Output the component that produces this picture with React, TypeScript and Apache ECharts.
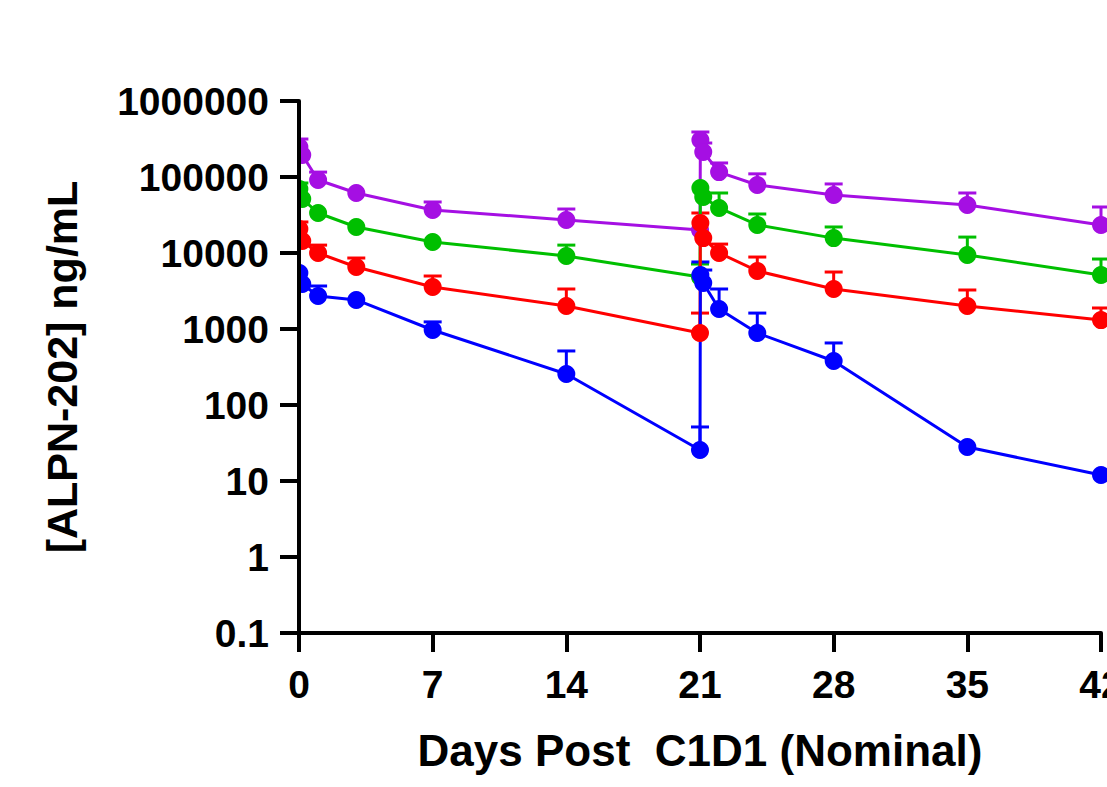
import React, { useEffect, useRef } from "react";
import * as echarts from "echarts";

// Nominal sampling times (days post C1D1)
const times = [0.02, 0.17, 1, 3, 7, 14, 21, 21.02, 21.17, 22, 24, 28, 35, 42];

// Mean concentrations (ng/mL) and upper error-bar ends (null = not visible)
const purpleMean = [248000, 195000, 91400, 61600, 36800, 27200, 20100, 307000, 213000, 116000, 78500, 58000, 42800, 23400];
const purpleUpper = [316000, null, 116000, null, 46900, 37900, null, 391000, 280000, 153000, 110000, 81000, 61600, 40300];

const greenMean = [69500, 51400, 33600, 22000, 13950, 9140, 4830, 71600, 54500, 39100, 23400, 15700, 9420, 5130];
const greenUpper = [83400, null, null, null, null, 12700, 7160, null, null, 61600, 32600, 22000, 16200, 8330];

const redMean = [20700, 14400, 10000, 6540, 3570, 2010, 886, 24800, 15700, 10000, 5800, 3360, 2010, 1310];
const redUpper = [25600, null, 12700, 8590, 4980, 3360, 1620, 33600, null, 13100, 8850, 5620, 3260, 1890];

const blueMean = [5450, 3910, 2720, 2410, 970, 256, 25.6, 5140, 4030, 1830, 886, 379, 28, 12];
const blueUpper = [null, null, 3680, null, 1240, 514, 51.4, 7620, 5970, 3360, 1620, 655, null, null];

const xTickLabels = ["0", "7", "14", "21", "28", "35", "42"];
const yTickLabels = ["0.1", "1", "10", "100", "1000", "10000", "100000", "1000000"];

const seriesDefs = [
  { name: "Cohort A", color: "#A50FE3", mean: purpleMean, upper: purpleUpper },
  { name: "Cohort B", color: "#00BF00", mean: greenMean, upper: greenUpper },
  { name: "Cohort C", color: "#FF0000", mean: redMean, upper: redUpper },
  { name: "Cohort D", color: "#0000FF", mean: blueMean, upper: blueUpper },
];

const FONT = "'Liberation Sans', Arial, Helvetica, sans-serif";
const GRID_LEFT = 299;
const GRID_TOP = 101;
const GRID_WIDTH = 802;
const GRID_HEIGHT = 532;
const CHART_W = 1250;
const CHART_H = 787;

export default function App() {
  const ref = useRef<HTMLDivElement>(null);

  useEffect(() => {
    if (!ref.current) return;
    const chart = echarts.init(ref.current, null, { renderer: "svg" });

    const series: any[] = [];
    seriesDefs.forEach((s) => {
      const errData = times
        .map((t, i) => (s.upper[i] == null ? null : [t, s.mean[i], s.upper[i]]))
        .filter((d) => d !== null);
      series.push({
        type: "custom",
        name: s.name + " error",
        data: errData,
        encode: { x: 0, y: [1, 2] },
        z: 2,
        renderItem: (params: any, api: any) => {
          const x = api.value(0);
          const p1 = api.coord([x, api.value(1)]);
          const p2 = api.coord([x, api.value(2)]);
          return {
            type: "group",
            children: [
              {
                type: "line",
                shape: { x1: p1[0], y1: p1[1], x2: p2[0], y2: p2[1] },
                style: { stroke: s.color, lineWidth: 3 },
              },
              {
                type: "line",
                shape: { x1: p2[0] - 9, y1: p2[1], x2: p2[0] + 9, y2: p2[1] },
                style: { stroke: s.color, lineWidth: 3 },
              },
            ],
          };
        },
      });
      series.push({
        type: "line",
        name: s.name,
        data: times.map((t, i) => [t, s.mean[i]]),
        symbol: "circle",
        symbolSize: 18,
        showSymbol: true,
        z: 2,
        lineStyle: { color: s.color, width: 3 },
        itemStyle: { color: s.color },
        clip: false,
      });
    });

    chart.setOption({
      animation: false,
      backgroundColor: "#ffffff",
      grid: {
        left: GRID_LEFT,
        top: GRID_TOP,
        width: GRID_WIDTH,
        height: GRID_HEIGHT,
        containLabel: false,
      },
      graphic: [
        {
          type: "rect",
          z: 5,
          shape: { x: GRID_LEFT - 12, y: GRID_TOP + 10, width: 11, height: GRID_HEIGHT - 10 },
          style: { fill: "#ffffff" },
        },
      ],
      xAxis: {
        type: "value",
        min: 0,
        max: 42,
        interval: 7,
        z: 10,
        name: "Days Post  C1D1 (Nominal)",
        nameLocation: "middle",
        nameGap: 95,
        nameTextStyle: { fontFamily: FONT, fontWeight: "bold", fontSize: 44, color: "#000" },
        axisLine: { show: true, onZero: false, lineStyle: { color: "#000", width: 4 } },
        axisTick: { show: true, length: 19, lineStyle: { color: "#000", width: 4 } },
        splitLine: { show: false },
        axisLabel: {
          fontFamily: FONT,
          fontWeight: "bold",
          fontSize: 39,
          color: "#000",
          margin: 32,
          formatter: (v: number) => xTickLabels[Math.round(v / 7)] ?? "",
        },
      },
      yAxis: {
        type: "log",
        logBase: 10,
        min: 0.1,
        max: 1000000,
        z: 10,
        name: "[ALPN-202] ng/mL",
        nameLocation: "middle",
        nameGap: 216,
        nameTextStyle: { fontFamily: FONT, fontWeight: "bold", fontSize: 43, color: "#000" },
        axisLine: { show: true, lineStyle: { color: "#000", width: 4 } },
        axisTick: { show: true, length: 19, lineStyle: { color: "#000", width: 4 } },
        minorTick: { show: false },
        splitLine: { show: false },
        axisLabel: {
          fontFamily: FONT,
          fontWeight: "bold",
          fontSize: 39,
          color: "#000",
          margin: 30,
          formatter: (v: number) => yTickLabels[Math.round(Math.log10(v)) + 1] ?? "",
        },
      },
      series,
    });

    return () => chart.dispose();
  }, []);

  return (
    <div
      style={{
        position: "fixed",
        left: 0,
        top: 0,
        width: 1107,
        height: 787,
        overflow: "hidden",
        background: "#fff",
      }}
    >
      <div ref={ref} style={{ width: CHART_W, height: CHART_H }} />
    </div>
  );
}
